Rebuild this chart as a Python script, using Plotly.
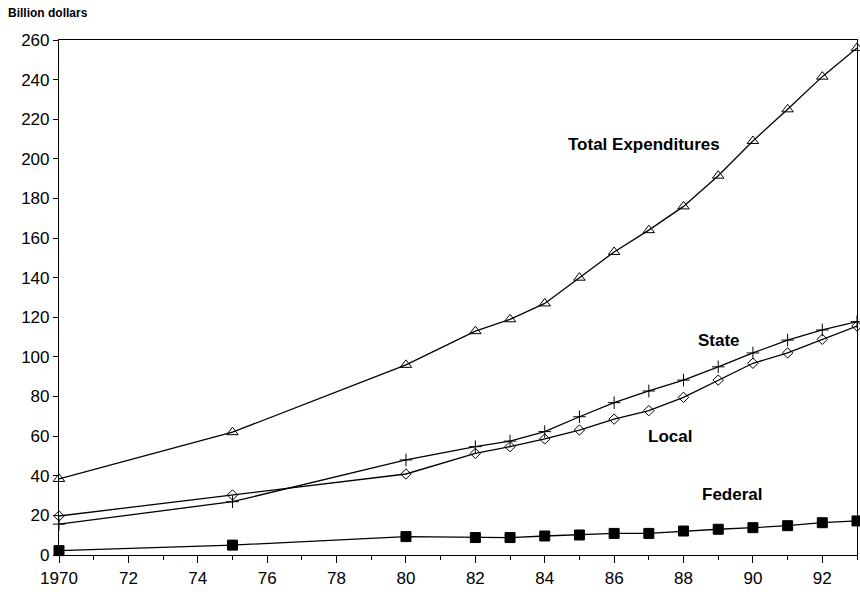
import plotly.graph_objects as go

years = [1970, 1975, 1980, 1982, 1983, 1984, 1985, 1986, 1987, 1988, 1989, 1990, 1991, 1992, 1993]
total = [38.4, 62, 96, 113, 119, 127, 140, 153, 164, 176, 191.5, 209, 225, 241.5, 256]
state = [15.6, 26.9, 48, 54.7, 57.5, 62.3, 69.8, 76.9, 82.8, 88.3, 95, 102, 108.5, 113.6, 117.8]
local = [19.7, 30.3, 40.9, 51.3, 54.7, 58.6, 63.1, 68.6, 72.9, 79.6, 88.3, 96.8, 102, 108.9, 115.6]
federal = [2.2, 5, 9.3, 8.8, 8.8, 9.6, 10.1, 10.9, 10.9, 12.1, 13, 13.8, 14.8, 16.3, 17.2]

x_tickvals = [1970, 1972, 1974, 1976, 1978, 1980, 1982, 1984, 1986, 1988, 1990, 1992]
x_ticktext = ["1970", "72", "74", "76", "78", "80", "82", "84", "86", "88", "90", "92"]

FONT = "Liberation Sans, Arial, Helvetica, sans-serif"

fig = go.Figure()

def add(y, symbol, size, name):
    fig.add_trace(go.Scatter(
        x=years, y=y, mode="lines+markers", name=name,
        line=dict(color="black", width=1.3),
        marker=dict(symbol=symbol, size=size, color="black",
                    line=dict(color="black", width=1)),
        showlegend=False, cliponaxis=False,
    ))

add(total, "triangle-up-open", 10, "Total Expenditures")
add(local, "diamond-open", 8, "Local")
add(state, "cross-thin", 9, "State")
add(federal, "square", 10, "Federal")

annots = [
    ("Total Expenditures", 1986.86, 207),
    ("State", 1989.03, 108.2),
    ("Local", 1987.6, 59.7),
    ("Federal", 1989.4, 30.3),
]
for text, x, y in annots:
    fig.add_annotation(x=x, y=y, text="<b>%s</b>" % text, showarrow=False,
                       font=dict(family=FONT, size=17, color="black"))

fig.add_annotation(xref="paper", yref="paper", x=-0.067, y=1.052, xanchor="left", yanchor="middle",
                   text="<b>Billion dollars</b>", showarrow=False,
                   font=dict(family=FONT, size=12, color="black"))

fig.update_xaxes(range=[1970, 1993], tickvals=x_tickvals, ticktext=x_ticktext,
                 ticks="outside", ticklen=7, tickwidth=1, tickcolor="black",
                 minor=dict(dtick=1, tick0=1970, ticks="outside", ticklen=4, tickcolor="black"),
                 showline=True, linecolor="black", linewidth=1.2, mirror=True,
                 showgrid=False, zeroline=False, automargin=False,
                 tickfont=dict(family=FONT, size=17, color="black"))
fig.update_yaxes(range=[0, 260], dtick=20, tick0=0,
                 ticks="outside", ticklen=5, tickwidth=1, tickcolor="black",
                 showline=True, linecolor="black", linewidth=1.2, mirror=True,
                 showgrid=False, zeroline=False, automargin=False,
                 tickfont=dict(family=FONT, size=17, color="black"))

fig.update_layout(width=860, height=608, plot_bgcolor="white", paper_bgcolor="white",
                  margin=dict(l=59, r=3, t=40, b=53))

fig.write_html("out.html", config={"displayModeBar": False},
               post_script="document.body.style.margin='0px';document.body.style.overflow='hidden';")
